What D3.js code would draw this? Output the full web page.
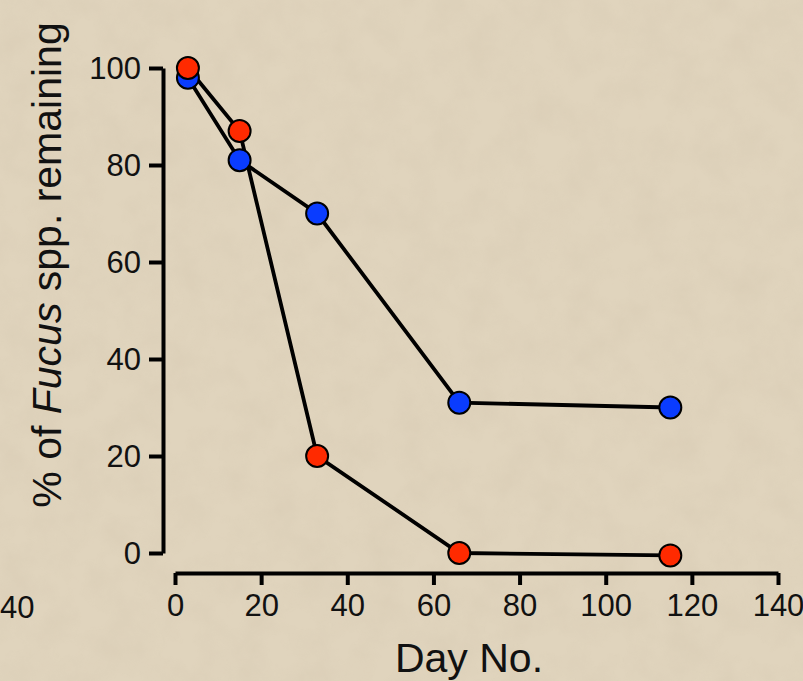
<!DOCTYPE html>
<html>
<head>
<meta charset="utf-8">
<script src="https://cdn.jsdelivr.net/npm/d3@7/dist/d3.min.js"></script>
<style>
	html,body{margin:0;padding:0;background:#dccfb7;}
	svg{display:block;}
	text{font-family:"Liberation Sans",Arial,Helvetica,sans-serif;fill:#111;}
</style>
</head>
<body>
<div id="chart"></div>
<script>
// days sampled
var days=[3,15,33,66,115]
// % of Fucus remaining, two series
var blueVals=[98,81,70,31,30]
var redVals=[100,87,20,0,-0.5]
var xTicks=[0,20,40,60,80,100,120,140]
var yTicks=[0,20,40,60,80,100]

var W=803, H=681

var svg=d3.select("#chart").append("svg")
	.attr("width",W)
	.attr("height",H)

// paper texture
var defs=svg.append("defs")
var f=defs.append("filter").attr("id","paper").attr("x",0).attr("y",0).attr("width","100%").attr("height","100%")
f.append("feTurbulence").attr("type","fractalNoise").attr("baseFrequency","0.03").attr("numOctaves",4).attr("seed",3).attr("result","n")
f.append("feColorMatrix").attr("in","n").attr("type","matrix")
	.attr("values","0 0 0 0 0.62  0 0 0 0 0.53  0 0 0 0 0.40  0 0 0 0.9 -0.3")

svg.append("rect").attr("width",W).attr("height",H).attr("fill","#e0d4bd")
svg.append("rect").attr("width",W).attr("height",H).attr("filter","url(#paper)").attr("opacity",0.45)

var x=d3.scaleLinear().domain([0,140]).range([175,778])
var y=d3.scaleLinear().domain([0,100]).range([553,68])

// y axis
var gy=svg.append("g").attr("transform","translate(163,0)")
	.call(d3.axisLeft(y).tickValues(yTicks).tickSize(14).tickSizeOuter(0).tickPadding(8))
gy.selectAll("path,line").attr("stroke","#000").attr("stroke-width",4)
gy.selectAll("text").style("font-size","31px").attr("fill","#111").attr("dy","0.34em")

// x axis
var gx=svg.append("g").attr("transform","translate(0,573)")
	.call(d3.axisBottom(x).tickValues(xTicks).tickSize(12).tickSizeOuter(0).tickPadding(9))
gx.selectAll("path,line").attr("stroke","#000").attr("stroke-width",4)
gx.selectAll("text").style("font-size","31px").attr("fill","#111")

// leftover label from neighbouring panel
svg.append("text").attr("x",0).attr("y",618).style("font-size","31px").text("40")

svg.append("text").attr("x",469).attr("y",672).attr("text-anchor","middle")
	.style("font-size","41px").text("Day No.")

var yl=svg.append("text").attr("transform","translate(61,265) rotate(-90)")
	.attr("text-anchor","middle").style("font-size","41px")
yl.append("tspan").text("% of ")
yl.append("tspan").style("font-style","italic").text("Fucus")
yl.append("tspan").text(" spp. remaining")

var line=d3.line().x(function(d,i){return x(days[i])}).y(function(d){return y(d)})

var series=[{vals:blueVals,color:"#0a3cff"},{vals:redVals,color:"#ff2a00"}]

series.forEach(function(s){
	svg.append("path").datum(s.vals)
		.attr("d",line).attr("fill","none")
		.attr("stroke","#000").attr("stroke-width",3.8)
})
series.forEach(function(s){
	svg.selectAll(null).data(s.vals).enter().append("circle")
		.attr("cx",function(d,i){return x(days[i])})
		.attr("cy",function(d){return y(d)})
		.attr("r",11)
		.attr("fill",s.color)
		.attr("stroke","#000").attr("stroke-width",2)
})
</script>
</body>
</html>
